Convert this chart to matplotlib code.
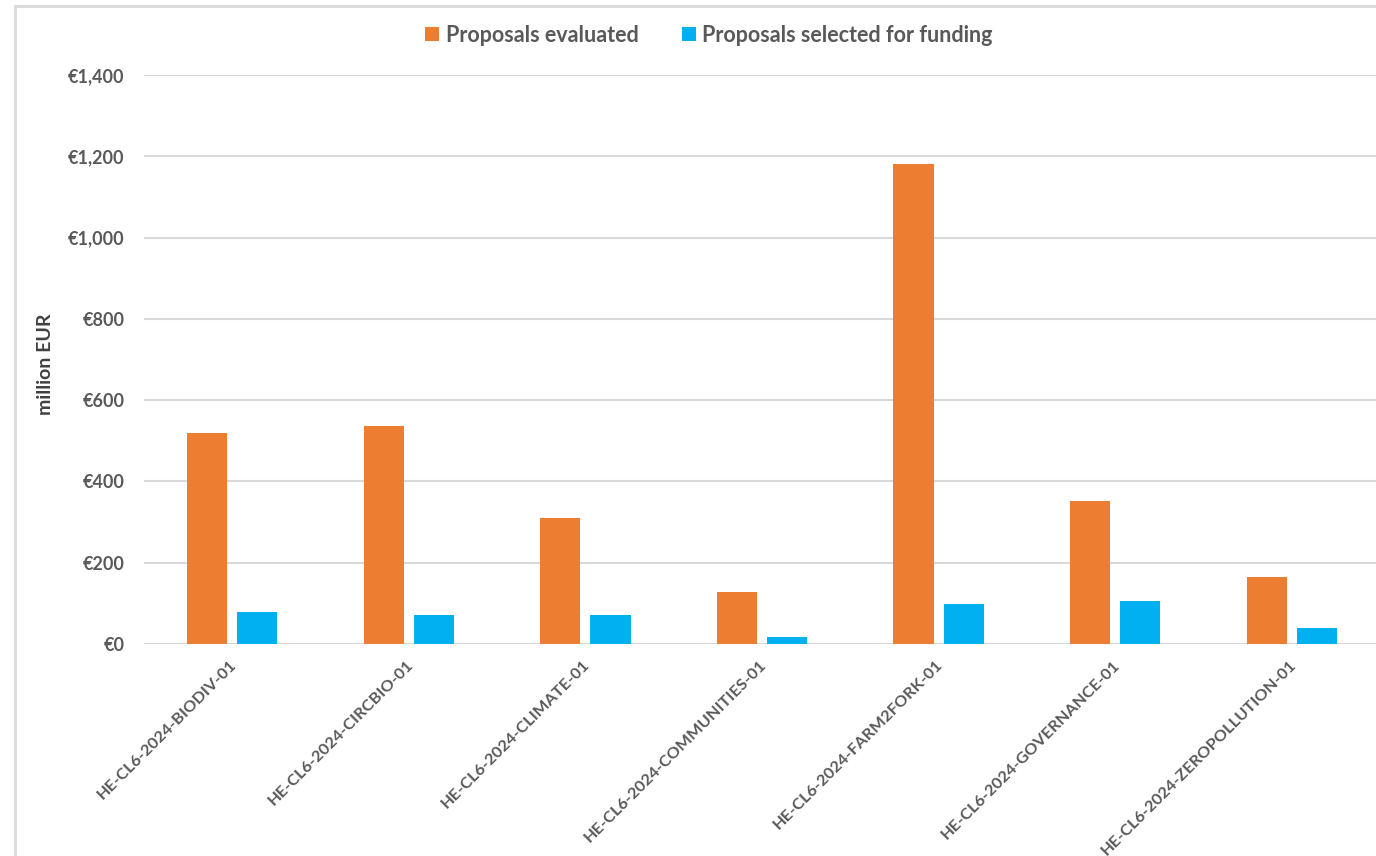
import numpy as np
import matplotlib
matplotlib.use('Agg')
import matplotlib.pyplot as plt
import matplotlib.transforms as mtransforms
from matplotlib.patches import Rectangle
from matplotlib.ticker import FuncFormatter

# Chart data (million EUR)
categories = ['HE-CL6-2024-BIODIV-01', 'HE-CL6-2024-CIRCBIO-01', 'HE-CL6-2024-CLIMATE-01',
              'HE-CL6-2024-COMMUNITIES-01', 'HE-CL6-2024-FARM2FORK-01',
              'HE-CL6-2024-GOVERNANCE-01', 'HE-CL6-2024-ZEROPOLLUTION-01']
evaluated = [519, 536, 311, 128, 1180, 352, 166]
selected = [79, 71, 71, 18, 98, 105, 40]
series_names = ['Proposals evaluated', 'Proposals selected for funding']
yticks = [0, 200, 400, 600, 800, 1000, 1200, 1400]

ORANGE = '#ED7D31'
BLUE = '#00B0F0'
TEXT = '#595959'

plt.rcParams['font.family'] = ['Lato', 'DejaVu Sans']

W, H = 1376, 856
fig = plt.figure(figsize=(W / 100, H / 100), dpi=100)

# light frame around the chart area (cut off at right/bottom like the screenshot)
fig.patches.append(Rectangle((15 / W, -0.1), 2.0, 1.1 - 6 / H, transform=fig.transFigure,
                             fill=False, edgecolor='#D9D9D9', linewidth=2, zorder=0))

# axes placed in pixels: left 144, right 1376, zero at y=644, 1400 at y=75
ax = fig.add_axes([144 / W, (H - 644) / H, (W - 144) / W, (644 - 75) / H])

x = np.arange(len(categories))
bw = 0.227
off = 0.142
ax.bar(x - off, evaluated, bw, color=ORANGE, label=series_names[0], zorder=3)
ax.bar(x + off, selected, bw, color=BLUE, label=series_names[1], zorder=3)

ax.set_xlim(-0.5, 6.477)
ax.set_ylim(0, 1400)
ax.set_yticks(yticks)
ax.yaxis.set_major_formatter(FuncFormatter(lambda v, p: '€{:,.0f}'.format(v)))
ax.grid(axis='y', color='#D9D9D9', linewidth=1.5, zorder=0)
for s in ax.spines.values():
    s.set_visible(False)
ax.tick_params(axis='both', length=0)
ax.tick_params(axis='y', pad=14, labelsize=13, labelcolor=TEXT)
for lab in ax.get_yticklabels():
    lab.set_fontweight('bold')

ax.set_xticks(x)
ax.set_xticklabels(categories, rotation=45, ha='right', va='center',
                   rotation_mode='anchor', fontsize=11.8, fontweight='bold', color=TEXT)
shift = mtransforms.ScaledTranslation(0.02, -0.14, fig.dpi_scale_trans)
for lab in ax.get_xticklabels():
    lab.set_transform(lab.get_transform() + shift)

fig.text(46 / W, 1 - 364 / H, 'million EUR', rotation=90, ha='center', va='center',
         fontsize=14, fontweight='bold', color='#404040')

fig.legend(loc='center', bbox_to_anchor=(709 / W, 1 - 35 / H), ncol=2, frameon=False,
           handlelength=0.65, handleheight=0.65, handletextpad=0.3, columnspacing=2.0,
           prop={'size': 15.5, 'weight': 'bold'}, labelcolor=TEXT)

fig.savefig('out.png', dpi=100)
